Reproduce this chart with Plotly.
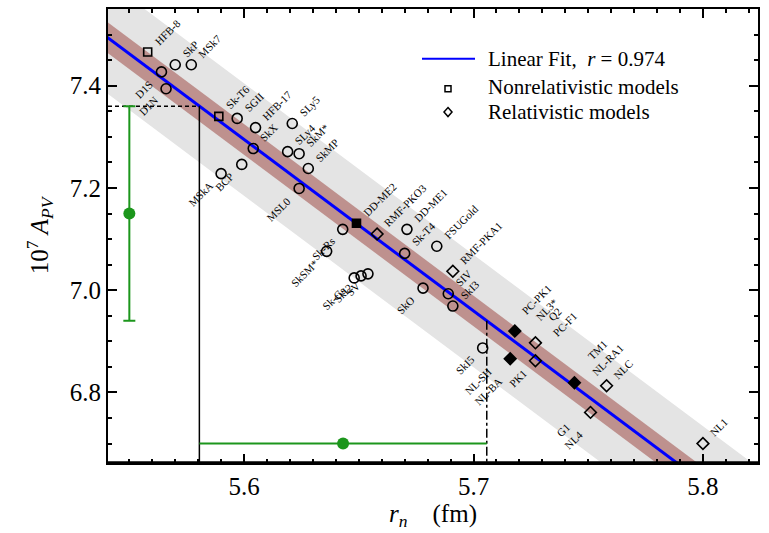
import plotly.graph_objects as go
import numpy as np

# ---------------- data ----------------
# linear fit of A_PV against r_n (10^7 A_PV = intercept + slope * r_n)
fit_slope = -3.353
fit_intercept = 26.0715
inner_band = 0.03    # half-width of the inner (brown) band in 10^7 A_PV
outer_band = 0.11    # half-width of the outer (grey) band in 10^7 A_PV

# measured parity-violating asymmetry (10^7 A_PV) and its error
apv_value = 7.15
apv_error = 0.21
apv_marker_rn = 5.55      # r_n at which the A_PV error bar is drawn
rn_marker_apv = 6.70      # A_PV at which the derived r_n error bar is drawn

# model predictions
model_names = [
    "HFB-8", "D1S", "SkP", "MSk7", "D1N", "Sk-T6", "SGII", "HFB-17", "SkX",
    "SLy5", "SLy4", "SkM*", "SkMP", "BCP", "MSkA", "MSL0", "DD-ME2", "Sk-Rs",
    "SkSM*", "Sk-Gs", "SkI2", "SV", "RMF-PKO3", "DD-ME1", "Sk-T4", "SkO",
    "FSUGold", "RMF-PKA1", "SIV", "SkI3", "SkI5", "PC-PK1<br>NL3*",
    "NL-SH<br>NL-BA", "Q2<br>PC-F1", "PK1", "TM1<br>NL-RA1", "NLC",
    "G1<br>NL4", "NL1",
]
model_rn = [
    5.558, 5.564, 5.570, 5.577, 5.566, 5.589, 5.597, 5.605, 5.604,
    5.621, 5.619, 5.624, 5.628, 5.599, 5.590, 5.624, 5.649, 5.643,
    5.636, 5.648, 5.651, 5.654, 5.658, 5.671, 5.670, 5.678,
    5.684, 5.691, 5.689, 5.691, 5.704, 5.718,
    5.716, 5.727, 5.727, 5.744, 5.758,
    5.751, 5.800,
]
model_apv = [
    7.466, 7.427, 7.441, 7.441, 7.394, 7.340, 7.336, 7.318, 7.277,
    7.326, 7.271, 7.267, 7.238, 7.246, 7.228, 7.199, 7.131, 7.119,
    7.076, 7.024, 7.028, 7.032, 7.110, 7.119, 7.072, 7.004,
    7.086, 7.037, 6.993, 6.969, 6.887, 6.920,
    6.866, 6.897, 6.862, 6.819, 6.813,
    6.761, 6.700,
]
model_symbol = [
    "square", "circle", "circle", "circle", "circle", "square", "circle", "circle", "circle",
    "circle", "circle", "circle", "circle", "circle", "circle", "circle", "square-fill", "circle",
    "circle", "circle", "circle", "circle", "diamond", "circle", "circle", "circle",
    "circle", "diamond", "circle", "circle", "circle", "diamond-fill",
    "diamond-fill", "diamond", "diamond", "diamond-fill", "diamond",
    "diamond", "diamond",
]
# which side of the marker the name is written on: up-right or low-left
label_side = [
    "ur", "ll", "ur", "ur", "ll", "ur", "ur", "ur", "ur",
    "ur", "ur", "ur", "ur", "ll", "ll", "ll", "ur", "ll",
    "ll", "ll", "ll", "ll", "ur", "ur", "ur", "ll",
    "ur", "ur", "ur", "ur", "ll", "ur",
    "ll", "ur", "ll", "ur", "ur",
    "ll", "ur",
]

x_range = [5.5407, 5.824]
y_range = [6.662, 7.55]
x_ticks = [5.6, 5.7, 5.8]
y_ticks = [6.8, 7.0, 7.2, 7.4]

# ---------------- derived values ----------------
def rn_from_apv(a):
    return (a - fit_intercept) / fit_slope

apv_hi = apv_value + apv_error
apv_lo = apv_value - apv_error
rn_center = rn_from_apv(apv_value)
rn_left = rn_from_apv(apv_hi)
rn_right = rn_from_apv(apv_lo)

serif = "Liberation Serif"
green = "rgb(28,150,28)"

fig = go.Figure()

# confidence bands around the fit
xb = np.array([5.45, 5.90])
yfit = fit_intercept + fit_slope * xb
for hw, col in [(outer_band, "rgb(228,228,228)"), (inner_band, "rgb(190,145,142)")]:
    fig.add_trace(go.Scatter(
        x=np.concatenate([xb, xb[::-1]]),
        y=np.concatenate([yfit + hw, (yfit - hw)[::-1]]),
        fill="toself", fillcolor=col, line=dict(width=0),
        mode="lines", hoverinfo="skip", showlegend=False))

fig.add_trace(go.Scatter(x=xb, y=yfit, mode="lines",
                         line=dict(color="rgb(0,0,255)", width=3),
                         showlegend=False))

# guide lines linking the measured A_PV to r_n through the fit
fig.add_trace(go.Scatter(x=[x_range[0], rn_left], y=[apv_hi, apv_hi], mode="lines",
                         line=dict(color="black", width=1.5, dash="4px,3px"), showlegend=False))
fig.add_trace(go.Scatter(x=[rn_left, rn_left], y=[apv_hi, y_range[0]], mode="lines",
                         line=dict(color="black", width=1.5), showlegend=False))
fig.add_trace(go.Scatter(x=[rn_right, rn_right], y=[apv_lo, y_range[0]], mode="lines",
                         line=dict(color="black", width=1.5, dash="dashdot"), showlegend=False))

# model markers grouped by symbol
for sym in sorted(set(model_symbol)):
    idx = [i for i, s in enumerate(model_symbol) if s == sym]
    base = sym.replace("-fill", "")
    filled = sym.endswith("-fill")
    size = {"circle": 10, "square": 8, "diamond": 9}[base]
    fig.add_trace(go.Scatter(
        x=[model_rn[i] for i in idx], y=[model_apv[i] for i in idx],
        mode="markers",
        marker=dict(symbol=base if filled else base + "-open", size=size,
                    color="black", line=dict(color="black", width=1.6)),
        showlegend=False))

# measured A_PV and the r_n it implies
fig.add_trace(go.Scatter(
    x=[apv_marker_rn], y=[apv_value], mode="markers",
    marker=dict(color=green, size=12),
    error_y=dict(type="constant", value=apv_error, color=green, thickness=2, width=6),
    showlegend=False))
fig.add_trace(go.Scatter(
    x=[rn_center], y=[rn_marker_apv], mode="markers",
    marker=dict(color=green, size=12),
    error_x=dict(type="data", symmetric=False, array=[rn_right - rn_center],
                 arrayminus=[rn_center - rn_left], color=green, thickness=2, width=0),
    showlegend=False))

# model names
annotations = []
for name, xv, yv, side in zip(model_names, model_rn, model_apv, label_side):
    if side == "ur":
        annotations.append(dict(x=xv, y=yv, xref="x", yref="y", text=name, showarrow=False,
                                textangle=-45, xanchor="left", yanchor="bottom",
                                xshift=2, yshift=2,
                                font=dict(family=serif, size=11, color="black")))
    else:
        annotations.append(dict(x=xv, y=yv, xref="x", yref="y", text=name, showarrow=False,
                                textangle=-45, xanchor="right", yanchor="top",
                                xshift=-3, yshift=-3,
                                font=dict(family=serif, size=11, color="black")))

# legend (drawn in paper coordinates)
W, H = 769, 533
ml, mr, mt, mb = 108, 11, 7, 70
pw, ph = W - ml - mr, H - mt - mb
def px(xp):
    return (xp - ml) / pw
def py(yp):
    return (H - mb - yp) / ph

shapes = []
shapes.append(dict(type="line", xref="paper", yref="paper",
                   x0=px(422), x1=px(475), y0=py(57), y1=py(57),
                   line=dict(color="rgb(0,0,255)", width=2)))
shapes.append(dict(type="rect", xref="paper", yref="paper",
                   x0=px(445), x1=px(451), y0=py(84), y1=py(90),
                   line=dict(color="black", width=1.5)))
shapes.append(dict(type="path", xref="paper", yref="paper",
                   path=f"M {px(448)} {py(106)} L {px(452)} {py(110.5)} L {px(448)} {py(115)} L {px(444)} {py(110.5)} Z",
                   line=dict(color="black", width=1.5)))
# thicker bottom frame line
shapes.append(dict(type="line", xref="paper", yref="paper",
                   x0=0, x1=1, y0=0, y1=0, line=dict(color="black", width=3.5)))
legend_rows = [("Linear Fit,  <i>r</i> = 0.974", 57),
               ("Nonrelativistic models", 85),
               ("Relativistic models", 110)]
for txt, yp in legend_rows:
    annotations.append(dict(x=px(486), y=py(yp), xref="paper", yref="paper", text=txt,
                            showarrow=False, xanchor="left", yanchor="middle",
                            font=dict(family=serif, size=21, color="black")))

fig.update_layout(
    width=W, height=H,
    margin=dict(l=ml, r=mr, t=mt, b=mb),
    paper_bgcolor="white", plot_bgcolor="white",
    showlegend=False,
    annotations=annotations,
    shapes=shapes,
    font=dict(family=serif, color="black"),
)
fig.update_xaxes(
    range=x_range, tickvals=x_ticks, tickformat=".1f",
    ticks="inside", ticklen=9, tickwidth=1.5, tickcolor="black",
    minor=dict(dtick=0.01, tick0=5.5, ticks="inside", ticklen=4, tickwidth=1.5, tickcolor="black"),
    showline=True, linewidth=2, linecolor="black", mirror="allticks",
    showgrid=False, zeroline=False,
    tickfont=dict(family=serif, size=25),
    title=dict(text="<i>r<sub>n</sub></i>    (fm)", font=dict(family=serif, size=25), standoff=4),
)
fig.update_yaxes(
    range=y_range, tickvals=y_ticks, tickformat=".1f",
    ticks="inside", ticklen=9, tickwidth=1.5, tickcolor="black",
    minor=dict(dtick=0.05, tick0=6.6, ticks="inside", ticklen=4, tickwidth=1.5, tickcolor="black"),
    showline=True, linewidth=2, linecolor="black", mirror="allticks",
    showgrid=False, zeroline=False,
    tickfont=dict(family=serif, size=25),
    title=dict(text="10<sup>7</sup> <i>A</i><sub><i>PV</i></sub>", font=dict(family=serif, size=25), standoff=14),
)

fig.write_html("out.html")
